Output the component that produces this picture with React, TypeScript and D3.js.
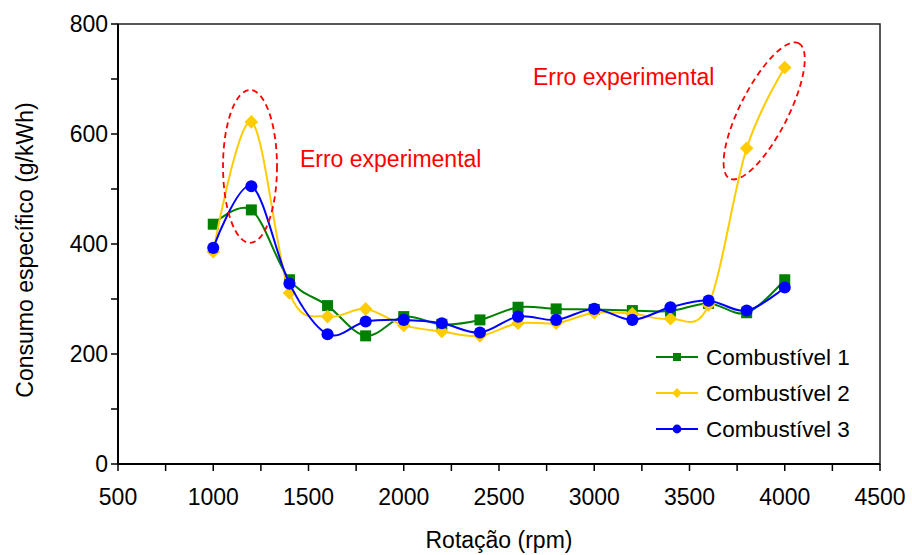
import React from "react";
import * as d3 from "d3";

const rpm = [1000, 1200, 1400, 1600, 1800, 2000, 2200, 2400, 2600, 2800, 3000, 3200, 3400, 3600, 3800, 4000];
const fuel1 = [436, 462, 335, 288, 233, 268, 254, 262, 285, 282, 281, 279, 278, 292, 275, 335];
const fuel2 = [386, 622, 311, 268, 282, 252, 241, 233, 256, 256, 275, 273, 264, 289, 574, 721];
const fuel3 = [393, 505, 328, 236, 259, 262, 256, 239, 268, 262, 282, 262, 285, 297, 279, 321];
const seriesNames = ["Combustível 1", "Combustível 2", "Combustível 3"];
const xTicks = [500, 1000, 1500, 2000, 2500, 3000, 3500, 4000, 4500];
const yTicks = [0, 200, 400, 600, 800];
const annotationText = "Erro experimental";

const W = 912;
const H = 555;
const FONT = "'Liberation Sans', Arial, sans-serif";

export default function App() {
  const x = d3.scaleLinear().domain([500, 4500]).range([118, 880]);
  const y = d3.scaleLinear().domain([0, 800]).range([464, 24]);
  const line = d3
    .line<[number, number]>()
    .x((d) => x(d[0]))
    .y((d) => y(d[1]))
    .curve(d3.curveCardinal.tension(0));

  const series = [
    { name: seriesNames[0], values: fuel1, color: "#008000", marker: "square" },
    { name: seriesNames[1], values: fuel2, color: "#FFCC00", marker: "diamond" },
    { name: seriesNames[2], values: fuel3, color: "#0000FF", marker: "circle" },
  ];

  const marker = (kind: string, cx: number, cy: number, color: string, s: number, key?: any) => {
    if (kind === "square")
      return <rect key={key} x={cx - s / 2} y={cy - s / 2} width={s} height={s} fill={color} />;
    if (kind === "diamond") {
      const r = s * 0.62;
      return (
        <polygon
          key={key}
          points={`${cx},${cy - r} ${cx + r},${cy} ${cx},${cy + r} ${cx - r},${cy}`}
          fill={color}
        />
      );
    }
    return <circle key={key} cx={cx} cy={cy} r={s * 0.55} fill={color} />;
  };

  const xMinor = d3.range(500, 4501, 250);
  const yMinor = d3.range(0, 801, 100);

  return (
    <svg width={W} height={H} style={{ position: "absolute", left: 0, top: 0, background: "#fff" }} fontFamily={FONT}>
      <rect x={0} y={0} width={W} height={H} fill="#fff" />
      {/* plot border */}
      <rect x={x(500)} y={y(800)} width={x(4500) - x(500)} height={y(0) - y(800)} fill="none" stroke="#222" strokeWidth={1.5} />
      {/* y ticks */}
      {yMinor.map((v) => (
        <line key={"yt" + v} x1={x(500) - 7} x2={x(500)} y1={y(v)} y2={y(v)} stroke="#000" strokeWidth={1.5} />
      ))}
      {yTicks.map((v) => (
        <text key={"yl" + v} x={x(500) - 10} y={y(v)} dy="0.36em" textAnchor="end" fontSize={23} fill="#000">
          {v}
        </text>
      ))}
      {/* x ticks */}
      {xMinor.map((v) => (
        <line key={"xt" + v} x1={x(v)} x2={x(v)} y1={y(0)} y2={y(0) + 7} stroke="#000" strokeWidth={1.5} />
      ))}
      {xTicks.map((v) => (
        <text key={"xl" + v} x={x(v)} y={y(0) + 41} textAnchor="middle" fontSize={23} fill="#000">
          {v}
        </text>
      ))}
      <line x1={x(500)} x2={x(4500)} y1={y(0)} y2={y(0)} stroke="#000" strokeWidth={2} />
      <line x1={x(500)} x2={x(500)} y1={y(0)} y2={y(800)} stroke="#000" strokeWidth={2} />
      {/* axis titles */}
      <text x={(x(500) + x(4500)) / 2} y={548} textAnchor="middle" fontSize={23} fill="#000">
        Rotação (rpm)
      </text>
      <text transform={`translate(33,250) rotate(-90)`} textAnchor="middle" fontSize={23} fill="#000">
        Consumo específico (g/kWh)
      </text>
      {/* series */}
      {series.map((s) => (
        <g key={s.name}>
          <path
            d={line(rpm.map((r, i) => [r, s.values[i]] as [number, number])) || ""}
            fill="none"
            stroke={s.color}
            strokeWidth={2}
          />
          {rpm.map((r, i) => marker(s.marker, x(r), y(s.values[i]), s.color, 11, i))}
        </g>
      ))}
      {/* annotations */}
      <ellipse cx={x(1193)} cy={y(541)} rx={27} ry={76.5} fill="none" stroke="#FF0000" strokeWidth={1.8} strokeDasharray="6 4" />
      <ellipse
        transform={`translate(${x(3892)},${y(642)}) rotate(-63)`}
        cx={0}
        cy={0}
        rx={76}
        ry={24}
        fill="none"
        stroke="#FF0000"
        strokeWidth={1.8}
        strokeDasharray="6 4"
      />
      <text x={x(1455)} y={y(540)} fontSize={23} fill="#FF0000">
        {annotationText}
      </text>
      <text x={x(2678)} y={y(689)} fontSize={23} fill="#FF0000">
        {annotationText}
      </text>
      {/* legend */}
      {series.map((s, i) => {
        const cy = 357 + i * 36;
        return (
          <g key={"lg" + i}>
            <line x1={656} x2={698} y1={cy} y2={cy} stroke={s.color} strokeWidth={2} />
            {marker(s.marker, 677, cy, s.color, 8)}
            <text x={706} y={cy} dy="0.36em" fontSize={22.5} fill="#000">
              {s.name}
            </text>
          </g>
        );
      })}
    </svg>
  );
}
